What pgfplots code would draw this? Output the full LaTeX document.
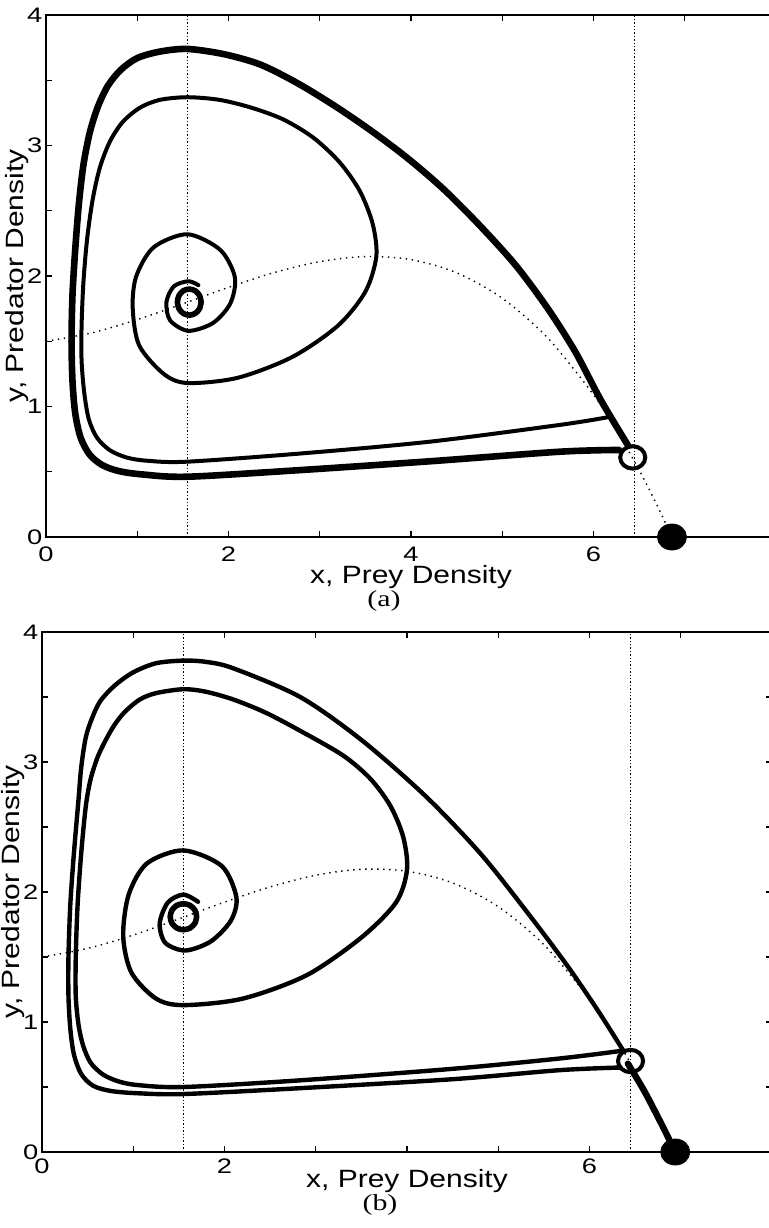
\documentclass[border=0pt]{standalone}
\usepackage{fontspec}
\setmainfont{Liberation Sans}[FakeStretch=1.3]
\newfontfamily\labelfont{Liberation Sans}[FakeStretch=1.2]
\newfontfamily\capfont{Liberation Serif}[FakeStretch=1.3]
\usepackage{pgfplots}
\pgfplotsset{compat=1.18}

\pgfplotsset{
  phase/.style={
    scale only axis, width=365pt,
    xmin=0, xmax=8, ymin=0, ymax=4,
    xtick={0,...,7},
    ytick={0,0.5,...,4}, yticklabels={0,,1,,2,,3,,4},
    tick align=inside, major tick length=3.2pt,
    tick style={black, line width=0.6pt},
    axis line style={line width=0.6pt},
    clip=false,
    /pgf/number format/assume math mode=true,
    tick label style={font=\fontsize{10.5}{12}\selectfont},
    yticklabel style={anchor=east, inner sep=0pt, xshift=-1.6pt},
    label style={font=\labelfont\fontsize{12.5}{14}\selectfont},
    xlabel={x, Prey Density},
    ylabel={y, Predator Density},
    ylabel style={at={(axis description cs:-0.031,0.5)}, anchor=base},
  },
  traj/.style={black, line width=#1, smooth, line cap=round, line join=round},
  null/.style={black, line width=0.7pt, smooth, dash pattern=on 0.7pt off 2.3pt},
  vnull/.style={black, line width=0.7pt, dash pattern=on 0.7pt off 1.0pt},
  saddle/.style={only marks, mark=o, mark size=5.6pt,
    mark options={line width=2pt, xscale=1.12, black}},
  node/.style={only marks, mark=*, mark size=6.5pt,
    mark options={xscale=1.12, black}},
}

\begin{document}
\begin{tikzpicture}

% ---------------- (a) ----------------
\begin{axis}[phase, height=261pt, at={(23pt,-268.5pt)}, anchor=south west,
    xticklabels={0,,2,,4,,6,},
    xticklabel style={anchor=base, yshift=-12pt},
    xlabel style={at={(axis description cs:0.5,-0.09)}, anchor=base}]
  % predator nullclines
  \addplot[vnull] coordinates {(1.55,0) (1.55,4)};
  \addplot[vnull] coordinates {(6.45,0) (6.45,4)};
  % prey nullcline
  \addplot[null] coordinates {
    (0,1.5) (0.5,1.564) (1,1.666) (1.5,1.787) (2,1.913) (2.5,2.026)
    (3,2.110) (3.5,2.149) (4,2.126) (4.5,2.025) (5,1.830) (5.5,1.524)
    (6,1.091) (6.25,0.821) (6.5,0.514) (6.7,0.239) (6.86,0)};
  % small cycle round the focus
  \addplot[traj=2.8pt] coordinates {
    (1.70,1.80) (1.683,1.85) (1.635,1.887) (1.57,1.90) (1.505,1.887)
    (1.457,1.85) (1.44,1.80) (1.457,1.75) (1.505,1.713) (1.57,1.70)
    (1.635,1.713) (1.683,1.75) (1.70,1.80)};
  % trajectory spiralling outwards
  \addplot[traj=2pt] coordinates {
    (1.67,1.93) (1.56,1.96) (1.40,1.92) (1.32,1.80) (1.36,1.66)
    (1.56,1.58) (1.83,1.64) (2.02,1.79) (2.07,1.99) (1.91,2.20)
    (1.55,2.32) (1.18,2.22) (0.99,2.00) (0.95,1.76) (1.02,1.47)
    (1.29,1.25) (1.55,1.18) (2.10,1.22) (2.70,1.38) (3.20,1.62)
    (3.50,1.88) (3.62,2.15) (3.58,2.40) (3.44,2.65) (3.22,2.87)
    (2.93,3.06) (2.60,3.20) (2.25,3.29) (1.90,3.35) (1.55,3.37)
    (1.25,3.35) (1.03,3.29) (0.84,3.18) (0.70,3.03) (0.59,2.83)
    (0.51,2.58) (0.45,2.28) (0.41,1.95) (0.39,1.62) (0.39,1.35)
    (0.42,1.10) (0.47,0.90) (0.56,0.76) (0.70,0.665) (0.88,0.61)
    (1.10,0.585) (1.54,0.577) (2.79,0.64) (4.20,0.73) (5.64,0.86)
    (6.15,0.917)};
  % limiting orbit through the saddle
  \addplot[traj=3.3pt] coordinates {
    (6.38,0.70) (6.08,1.05) (5.80,1.42) (5.50,1.75) (5.15,2.08)
    (4.75,2.39) (4.35,2.67) (3.95,2.91) (3.55,3.12) (3.15,3.31)
    (2.75,3.48) (2.35,3.62) (1.95,3.70) (1.55,3.74) (1.25,3.72)
    (1.00,3.67) (0.82,3.58) (0.68,3.46) (0.57,3.30) (0.48,3.10)
    (0.41,2.85) (0.36,2.55) (0.32,2.20) (0.29,1.85) (0.28,1.50)
    (0.29,1.20) (0.32,0.95) (0.38,0.76) (0.48,0.63) (0.62,0.55)
    (0.80,0.505) (1.05,0.48) (1.55,0.462) (2.79,0.513) (4.20,0.58)
    (5.64,0.654) (6.28,0.667)};
  % equilibria
  \addplot[saddle] coordinates {(6.43,0.61)};
  \addplot[node] coordinates {(6.86,0)};
  \node[font=\capfont\fontsize{11.5}{13}\selectfont] at (axis description cs:0.463,-0.1226) {(a)};
\end{axis}

% ---------------- (b) ----------------
\begin{axis}[phase, height=260pt, at={(21pt,-576pt)}, anchor=south west,
    xticklabels={0,,2,,,,6,},
    xticklabel style={anchor=base, yshift=-10.5pt},
    xlabel style={at={(axis description cs:0.5,-0.0692)}, anchor=base}]
  \addplot[vnull] coordinates {(1.55,0) (1.55,4)};
  \addplot[vnull] coordinates {(6.45,0) (6.45,4)};
  \addplot[null] coordinates {
    (0,1.5) (0.5,1.566) (1,1.669) (1.5,1.793) (2,1.922) (2.5,2.039)
    (3,2.129) (3.5,2.175) (4,2.160) (4.5,2.070) (5,1.887) (5.5,1.595)
    (6,1.178) (6.25,0.918) (6.5,0.621) (6.75,0.284) (6.94,0)};
  \addplot[traj=2.8pt] coordinates {
    (1.695,1.81) (1.676,1.86) (1.623,1.897) (1.55,1.91) (1.477,1.897)
    (1.424,1.86) (1.405,1.81) (1.424,1.76) (1.477,1.723) (1.55,1.71)
    (1.623,1.723) (1.676,1.76) (1.695,1.81)};
  \addplot[traj=2.2pt] coordinates {
    (1.71,1.925) (1.55,1.98) (1.38,1.92) (1.29,1.76) (1.35,1.61)
    (1.57,1.55) (1.85,1.62) (2.07,1.78) (2.13,1.96) (1.97,2.20)
    (1.55,2.32) (1.15,2.22) (0.95,1.98) (0.89,1.66) (0.98,1.38)
    (1.25,1.18) (1.55,1.13) (2.20,1.18) (2.90,1.36) (3.50,1.65)
    (3.88,1.92) (4.00,2.17) (3.96,2.42) (3.82,2.66) (3.60,2.87)
    (3.30,3.05) (2.83,3.24) (2.45,3.38) (2.10,3.48) (1.80,3.54)
    (1.55,3.56) (1.25,3.53) (1.07,3.48) (0.90,3.38) (0.78,3.27)
    (0.67,3.13) (0.60,3.02) (0.53,2.86) (0.48,2.66) (0.43,2.30)
    (0.39,1.90) (0.37,1.50) (0.37,1.20) (0.40,0.98) (0.45,0.82)
    (0.53,0.69) (0.66,0.60) (0.83,0.545) (1.05,0.515) (1.55,0.50)
    (2.80,0.55) (4.50,0.64) (5.68,0.72) (6.37,0.78)};
  \addplot[traj=2.2pt] coordinates {
    (6.37,0.78) (6.10,1.08) (5.75,1.44) (5.30,1.86) (4.80,2.30)
    (4.20,2.74) (3.50,3.17) (2.83,3.50) (2.10,3.72) (1.80,3.77)
    (1.55,3.78) (1.25,3.76) (1.00,3.69) (0.80,3.59) (0.64,3.47)
    (0.55,3.34) (0.48,3.19) (0.43,2.96) (0.40,2.71) (0.35,2.30)
    (0.31,1.90) (0.29,1.50) (0.29,1.20) (0.31,0.95) (0.35,0.75)
    (0.43,0.60) (0.56,0.51) (0.75,0.47) (1.05,0.452) (1.55,0.446)
    (2.80,0.49) (4.50,0.56) (5.68,0.63) (6.34,0.65)};
  \addplot[traj=3.2pt] coordinates {
    (6.42,0.68) (6.60,0.47) (6.80,0.20) (6.94,0)};
  \addplot[saddle] coordinates {(6.45,0.70)};
  \addplot[node] coordinates {(6.94,0)};
  \node[font=\capfont\fontsize{11.5}{13}\selectfont] at (axis description cs:0.463,-0.102) {(b)};
\end{axis}

\pgfresetboundingbox
\path[use as bounding box] (0,0) rectangle (384pt,-614pt);
\end{tikzpicture}
\end{document}
